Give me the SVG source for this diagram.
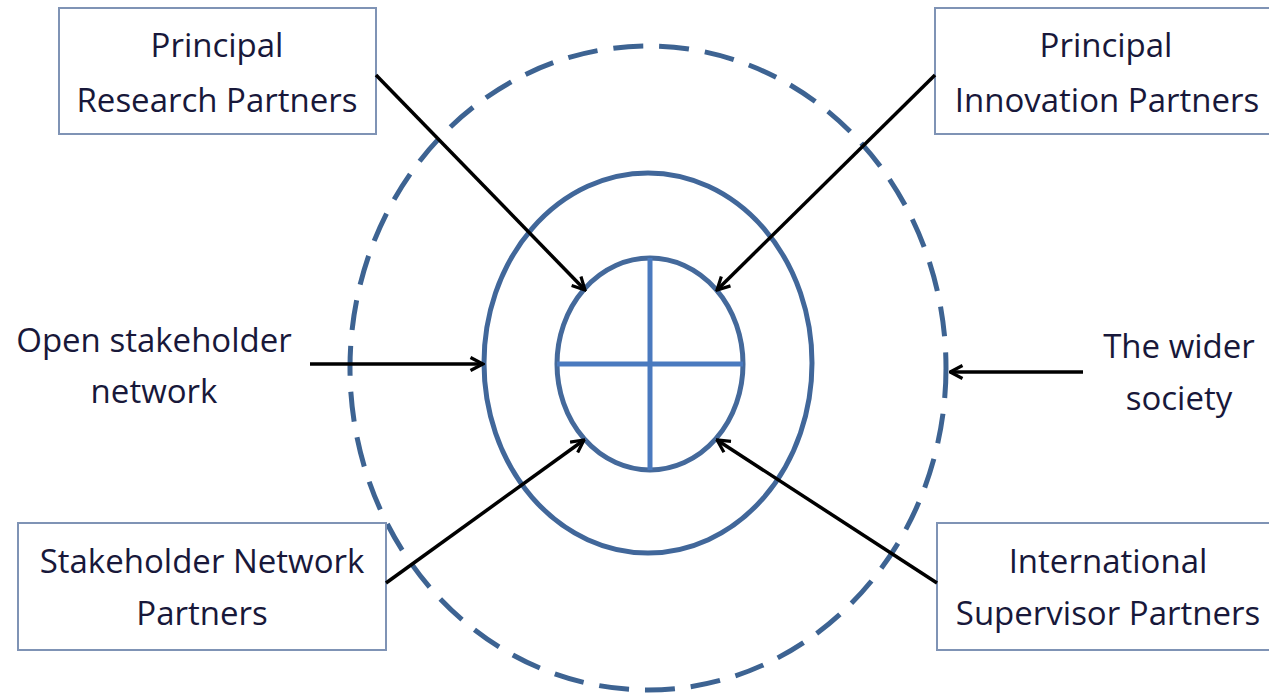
<svg xmlns="http://www.w3.org/2000/svg" width="1269" height="695" viewBox="0 0 1269 695">
<defs>
<marker id="ah" viewBox="0 0 16 16" refX="14.5" refY="8" markerWidth="16" markerHeight="16" markerUnits="userSpaceOnUse" orient="auto">
<path d="M2,1.5 L14.5,8 L2,14.5" fill="none" stroke="#000" stroke-width="3.2"/>
</marker>
<style>
.box{fill:#fff;stroke:#7f93b5;stroke-width:2}
.t{font-family:"Open Sans","Liberation Sans",sans-serif;font-size:33px;fill:#18183a;text-anchor:middle}
.c{stroke:#000;stroke-width:3.5;fill:none;marker-end:url(#ah)}
</style>
</defs>
<rect width="1269" height="695" fill="#fff"/>
<g id="outer-ring"><ellipse cx="648" cy="368" rx="298" ry="322" fill="none" stroke="#3d6392" stroke-width="5" stroke-dasharray="30 16"/></g>
<g id="middle-ring"><ellipse cx="648" cy="363" rx="164" ry="190" fill="none" stroke="#41679a" stroke-width="5"/></g>
<g id="core"><ellipse cx="650" cy="364" rx="93" ry="106" fill="none" stroke="#44699b" stroke-width="5"/>
<line x1="650" y1="258" x2="650" y2="470" stroke="#4a7abf" stroke-width="5"/>
<line x1="557" y1="364" x2="743" y2="364" stroke="#4a7abf" stroke-width="5"/></g>
<g id="n-research"><rect class="box" x="59" y="8" width="317" height="126"/><text class="t" x="217" y="57">Principal</text><text class="t" x="217" y="112">Research Partners</text></g>
<g id="n-innovation"><rect class="box" x="935" y="8" width="340" height="126"/><text class="t" x="1106" y="57">Principal</text><text class="t" x="1107" y="112">Innovation Partners</text></g>
<g id="n-stakeholder"><rect class="box" x="18" y="523" width="368" height="127"/><text class="t" x="202" y="573">Stakeholder Network</text><text class="t" x="202" y="625">Partners</text></g>
<g id="n-supervisor"><rect class="box" x="937" y="523" width="340" height="127"/><text class="t" x="1108" y="573">International</text><text class="t" x="1108" y="625">Supervisor Partners</text></g>
<g id="n-open"><text class="t" x="154" y="352">Open stakeholder</text><text class="t" x="154" y="403">network</text></g>
<g id="n-society"><text class="t" x="1179" y="358">The wider</text><text class="t" x="1179" y="410">society</text></g>
<g id="connectors">
<line class="c" x1="376" y1="75" x2="585" y2="290"/>
<line class="c" x1="935" y1="75" x2="717" y2="290"/>
<line class="c" x1="310" y1="364" x2="483" y2="364"/>
<line class="c" x1="1083" y1="372" x2="950" y2="372"/>
<line class="c" x1="386" y1="583" x2="584" y2="440"/>
<line class="c" x1="937" y1="583" x2="717" y2="440"/>
</g>
</svg>
